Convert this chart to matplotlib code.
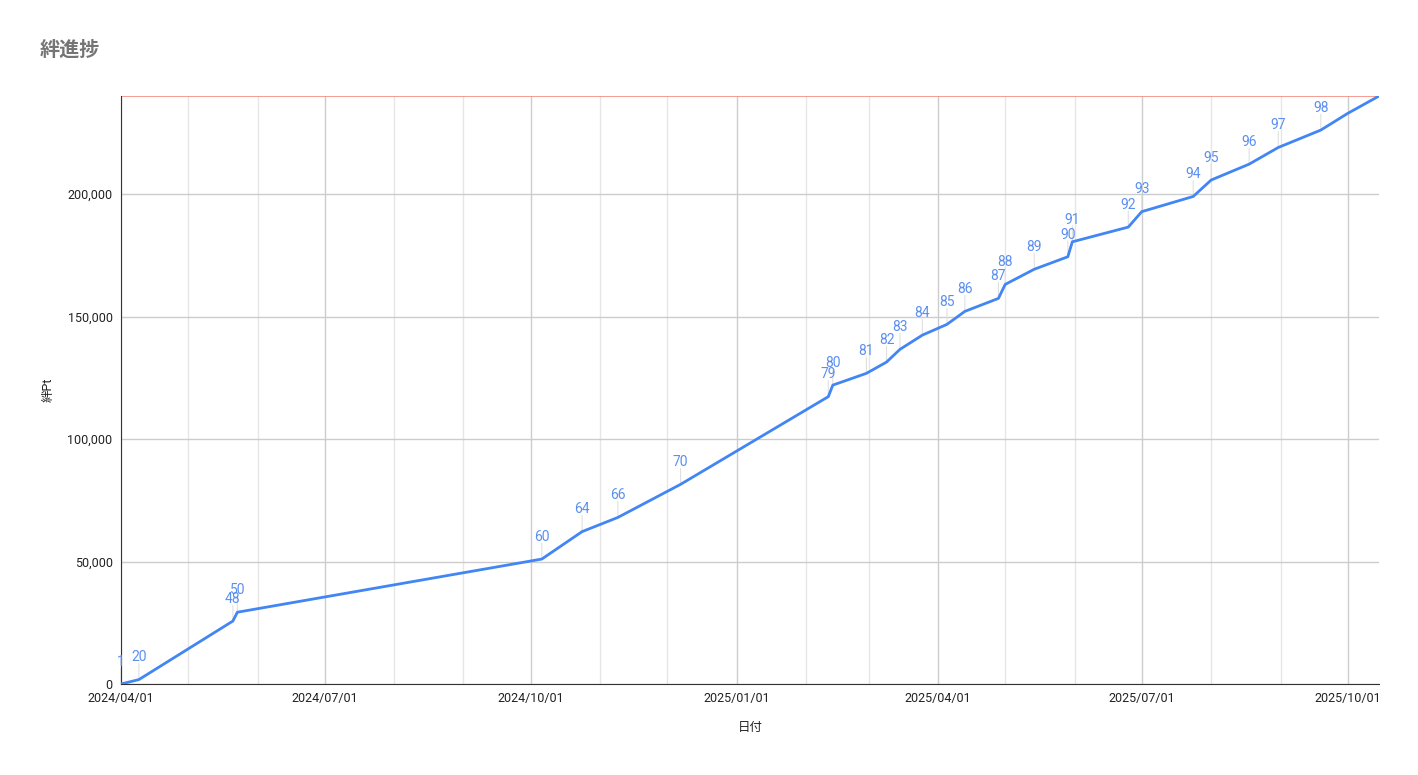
import numpy as np
import pandas as pd
import matplotlib.pyplot as plt
import matplotlib.dates as mdates
from matplotlib.ticker import FuncFormatter

plt.rcParams['font.family'] = ['Roboto', 'Noto Sans CJK JP', 'DejaVu Sans']

# Data
dates = ["2024-04-01", "2024-04-09", "2024-05-21", "2024-05-23", "2024-10-06",
         "2024-10-24", "2024-11-09", "2024-12-07", "2025-02-11", "2025-02-13",
         "2025-02-28", "2025-03-09", "2025-03-15", "2025-03-25", "2025-04-05",
         "2025-04-13", "2025-04-28", "2025-05-01", "2025-05-14", "2025-05-29",
         "2025-05-31", "2025-06-25", "2025-07-01", "2025-07-24", "2025-08-01",
         "2025-08-18", "2025-08-31", "2025-09-19", "2025-10-01", "2025-10-15"]
points = [0, 1800, 25700, 29300, 51000,
          62200, 68000, 81500, 117300, 122000,
          126800, 131400, 136600, 142400, 146800,
          152100, 157400, 163100, 169300, 174400,
          180500, 186500, 192800, 199000, 205700,
          212200, 219000, 226100, 232900, 240000]
levels = ["1", "20", "48", "50", "60",
          "64", "66", "70", "79", "80",
          "81", "82", "83", "84", "85",
          "86", "87", "88", "89", "90",
          "91", "92", "93", "94", "95",
          "96", "97", "98", "", ""]
goal = 240000

x = pd.to_datetime(dates)

fig = plt.figure(figsize=(14.18, 7.75), dpi=100)
ax = fig.add_axes([0.0853, 0.1174, 0.8872, 0.7587])

ax.plot(x, points, color="#4285f4", lw=2, zorder=3)
ax.axhline(goal, color="#f28b82", lw=1.2, zorder=2)

for xi, yi, lab in zip(x, points, levels):
    if not lab:
        continue
    ax.annotate("", xy=(xi, yi), xytext=(0, 11.5), textcoords="offset points",
                arrowprops=dict(arrowstyle="-", color="#e0e0e0", lw=0.8,
                                shrinkA=0, shrinkB=0), zorder=1)
    ax.annotate(lab, xy=(xi, yi), xytext=(0, 16), textcoords="offset points",
                ha="center", va="center", color="#5b8ff0", fontsize=10,
                annotation_clip=False, zorder=4)

ax.set_xlim(pd.Timestamp("2024-04-01"), pd.Timestamp("2025-10-15"))
ax.set_ylim(0, goal)

ax.xaxis.set_major_locator(mdates.MonthLocator(bymonth=[1, 4, 7, 10]))
ax.xaxis.set_minor_locator(mdates.MonthLocator())
ax.xaxis.set_major_formatter(mdates.DateFormatter("%Y/%m/%d"))
ax.set_yticks([0, 50000, 100000, 150000, 200000])
ax.yaxis.set_major_formatter(FuncFormatter(lambda v, p: f"{int(v):,}"))

ax.grid(True, which="major", color="#cccccc", lw=1)
ax.grid(True, which="minor", axis="x", color="#e6e6e6", lw=1)
ax.set_axisbelow(True)
ax.tick_params(which="both", length=0, labelsize=9, colors="#222222", pad=6)

for side in ["top", "right"]:
    ax.spines[side].set_visible(False)
ax.spines["left"].set_color("#333333")
ax.spines["bottom"].set_color("#333333")

ax.set_xlabel("日付", fontsize=9, color="#222222", labelpad=11)
ax.set_ylabel("絆Pt", fontsize=9, color="#222222", labelpad=9)

fig.text(0.028, 0.935, "絆進捗", fontsize=14.5, fontweight="bold", color="#757575",
         va="center", ha="left")

plt.savefig("out.png", dpi=100)
